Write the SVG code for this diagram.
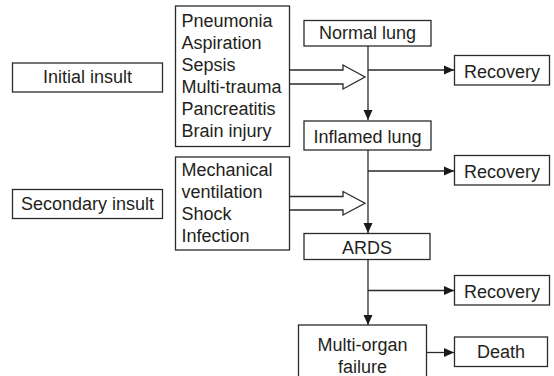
<svg xmlns="http://www.w3.org/2000/svg" width="554" height="376" viewBox="0 0 554 376">
<style>
  .box { fill: #fff; stroke: #2a2a2a; stroke-width: 1.3; }
  .ln { fill: none; stroke: #2a2a2a; stroke-width: 1.3; }
  .hollow { fill: #fff; stroke: #2a2a2a; stroke-width: 1.3; }
  text { font-family: "Liberation Sans", Arial, sans-serif; font-size: 18px; fill: #231f20; }
  .c { text-anchor: middle; }
</style>
<defs>
  <marker id="ah" markerUnits="userSpaceOnUse" markerWidth="10" markerHeight="10" refX="10" refY="5" orient="auto">
    <path d="M0,0.5 L10,5 L0,9.5 z" fill="#1a1a1a"/>
  </marker>
</defs>
<rect width="554" height="376" fill="#fff"/>
<g id="connectors">
  <path class="ln" d="M368,46 V120" marker-end="url(#ah)"/>
  <path class="ln" d="M368,150 V233" marker-end="url(#ah)"/>
  <path class="ln" d="M368,259 V325" marker-end="url(#ah)"/>
  <path class="ln" d="M368,70 H454" marker-end="url(#ah)"/>
  <path class="ln" d="M368,171 H454" marker-end="url(#ah)"/>
  <path class="ln" d="M368,290.5 H454" marker-end="url(#ah)"/>
  <path class="ln" d="M427,352.5 H454" marker-end="url(#ah)"/>
  <path class="hollow" d="M289.5,70 H343 V65 L365,77 L343,89 V84 H289.5"/>
  <path class="hollow" d="M289.5,196.5 H343 V191.5 L365,203.3 L343,215 V210 H289.5"/>
</g>
<g id="initial-insult">
  <rect class="box" x="12.5" y="63" width="150" height="29"/>
  <text class="c" x="87.5" y="83">Initial insult</text>
</g>
<g id="secondary-insult">
  <rect class="box" x="12.5" y="189.5" width="150" height="29"/>
  <text class="c" x="87.5" y="210">Secondary insult</text>
</g>
<g id="initial-causes">
  <rect class="box" x="175.5" y="6" width="114" height="140.5"/>
  <text x="181.5" y="26.5">Pneumonia</text>
  <text x="181.5" y="48.5">Aspiration</text>
  <text x="181.5" y="70.5">Sepsis</text>
  <text x="181.5" y="92.5">Multi-trauma</text>
  <text x="181.5" y="114.5">Pancreatitis</text>
  <text x="181.5" y="136.5">Brain injury</text>
</g>
<g id="secondary-causes">
  <rect class="box" x="175.5" y="157" width="114" height="93"/>
  <text x="181.5" y="175.5">Mechanical</text>
  <text x="181.5" y="197.5">ventilation</text>
  <text x="181.5" y="219.5">Shock</text>
  <text x="181.5" y="241.5">Infection</text>
</g>
<g id="normal-lung">
  <rect class="box" x="304" y="20.5" width="127" height="25.5"/>
  <text class="c" x="367.5" y="39">Normal lung</text>
</g>
<g id="inflamed-lung">
  <rect class="box" x="304" y="121" width="127" height="29"/>
  <text class="c" x="367.5" y="143">Inflamed lung</text>
</g>
<g id="ards">
  <rect class="box" x="304" y="233.5" width="126" height="26"/>
  <text class="c" x="367" y="254">ARDS</text>
</g>
<g id="multi-organ-failure">
  <rect class="box" x="298.5" y="325" width="128" height="60"/>
  <text class="c" x="362.5" y="351">Multi-organ</text>
  <text class="c" x="362.5" y="372.5">failure</text>
</g>
<g id="recovery-1">
  <rect class="box" x="454.5" y="55.5" width="95" height="29.5"/>
  <text class="c" x="502" y="78">Recovery</text>
</g>
<g id="recovery-2">
  <rect class="box" x="454.5" y="155.5" width="95" height="29.5"/>
  <text class="c" x="502" y="178">Recovery</text>
</g>
<g id="recovery-3">
  <rect class="box" x="454.5" y="275.5" width="95" height="29.5"/>
  <text class="c" x="502" y="298">Recovery</text>
</g>
<g id="death">
  <rect class="box" x="454.5" y="337" width="93" height="29.5"/>
  <text class="c" x="501" y="358">Death</text>
</g>
</svg>
